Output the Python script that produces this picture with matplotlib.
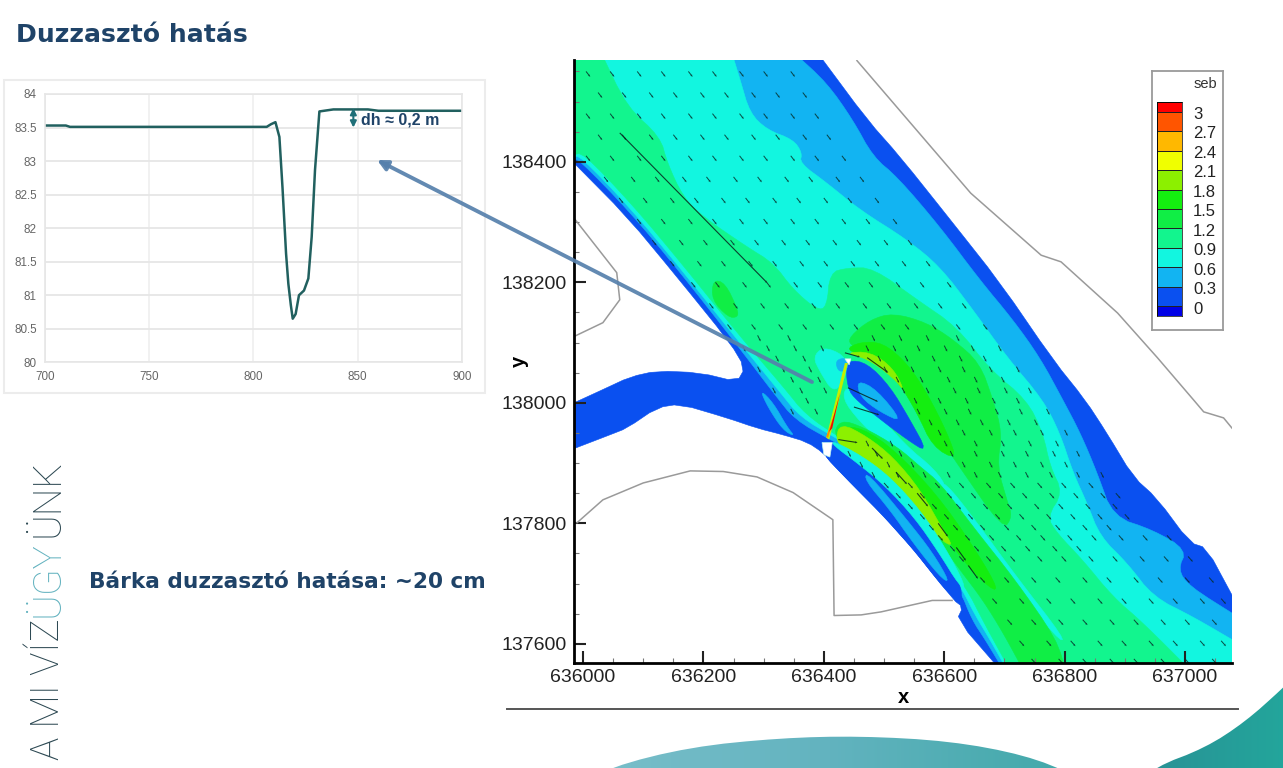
import numpy as np
import matplotlib
matplotlib.use("Agg")
import matplotlib.pyplot as plt
from matplotlib.colors import ListedColormap, BoundaryNorm, LinearSegmentedColormap
from matplotlib.patches import Polygon, Rectangle, FancyArrowPatch
from matplotlib.ticker import MultipleLocator

plt.rcParams["font.family"] = ["Liberation Sans", "DejaVu Sans"]

W, H = 1283, 768
NAVY = "#1f4368"

# water level profile
profile_x = [700, 710, 712, 750, 800, 806.4, 808.5, 810.6, 812.5, 814, 815.7, 816.8, 818, 818.9, 820.3,
             821.9, 824.3, 826.4, 828, 829.6, 831.7, 838.4, 855, 860, 900]
profile_y = [83.53, 83.53, 83.51, 83.51, 83.51, 83.51, 83.55, 83.58, 83.36, 82.6, 81.62, 81.17, 80.85, 80.65, 80.72,
             81.0, 81.07, 81.25, 81.87, 82.87, 83.74, 83.77, 83.77, 83.75, 83.75]
profile_xticks = [700, 750, 800, 850, 900]
profile_yticks = [80, 80.5, 81, 81.5, 82, 82.5, 83, 83.5, 84]
profile_ylabels = ["80", "80.5", "81", "81.5", "82", "82.5", "83", "83.5", "84"]

# legend
seb_levels = [0, 0.3, 0.6, 0.9, 1.2, 1.5, 1.8, 2.1, 2.4, 2.7, 3]
seb_labels = ["0", "0.3", "0.6", "0.9", "1.2", "1.5", "1.8", "2.1", "2.4", "2.7", "3"]
seb_edges = [-0.15, 0, 0.3, 0.6, 0.9, 1.2, 1.5, 1.8, 2.1, 2.4, 2.7, 3, 3.15]
seb_colors = ["#0000e6", "#0a50f0", "#12b4f2", "#12f6e0", "#12f58e", "#10ee45", "#14ee10",
              "#8cf000", "#f0ff00", "#ffb800", "#ff5500", "#ff0000"]

# velocity bands in EOV metres
water = [(635985, 138575), (636394, 138575), (636472, 138470), (636527, 138408), (636610, 138304), (636693, 138199),
         (636781, 138071), (636834, 138005), (636870, 137950), (636914, 137877), (636953, 137842), (637008, 137768),
         (637036, 137759), (637078, 137681), (637078, 137557), (636693, 137557), (636621, 137640), (636631, 137661),
         (636615, 137673), (636527, 137784), (636415, 137897), (636399, 137917), (636372, 137935), (636332, 137947),
         (636289, 137958), (636239, 137975), (636161, 137998), (636123, 137992), (636073, 137958), (636045, 137947),
         (635985, 137924), (635985, 138000), (636033, 138022), (636078, 138043), (636123, 138053), (636194, 138050),
         (636256, 138035), (636269, 138058), (636244, 138100), (636156, 138209), (636073, 138309), (635985, 138398)]
band_03 = [(635985, 138575), (636357, 138575), (636405, 138531), (636448, 138470), (636482, 138408), (636522, 138375),
           (636593, 138292), (636659, 138204), (636714, 138138), (636759, 138075), (636797, 138005), (636826, 137950),
           (636854, 137884), (636880, 137811), (636947, 137789), (637003, 137756), (636988, 137723), (637008, 137695),
           (637078, 137651), (637078, 137557), (636698, 137557), (636668, 137607), (636646, 137640), (636626, 137690),
           (636585, 137739), (636551, 137789), (636510, 137856), (636460, 137914), (636410, 137939), (636352, 137972),
           (636319, 138013), (636256, 138096), (636161, 138217), (636078, 138317), (635992, 138405), (635985, 138403)]
band_06 = [(635985, 138575), (636249, 138575), (636261, 138536), (636277, 138481), (636306, 138453), (636349, 138437),
           (636364, 138415), (636360, 138398), (636405, 138365), (636460, 138320), (636538, 138271), (636593, 138226),
           (636648, 138154), (636704, 138076), (636764, 138005), (636792, 137950), (636814, 137884), (636837, 137834),
           (636859, 137778), (636904, 137734), (636947, 137678), (637013, 137645), (637078, 137607), (637078, 137557),
           (636704, 137557), (636676, 137607), (636651, 137648), (636630, 137690), (636593, 137748), (636551, 137806),
           (636518, 137856), (636468, 137914), (636419, 137942), (636360, 137977), (636327, 138018), (636256, 138105),
           (636161, 138224), (636078, 138324), (635995, 138410), (635985, 138408)]
band_09 = [(635985, 138575), (636033, 138575), (636073, 138491), (636128, 138442), (636140, 138398), (636166, 138342),
           (636199, 138309), (636272, 138259), (636316, 138232), (636349, 138188), (636389, 138154), (636405, 138159),
           (636410, 138216), (636439, 138224), (636482, 138224), (636555, 138171), (636621, 138126), (636676, 138055),
           (636737, 138005), (636764, 137950), (636776, 137894), (636797, 137851), (636771, 137811), (636787, 137784),
           (636830, 137739), (636880, 137678), (636930, 137635), (637008, 137557), (636709, 137557), (636668, 137631),
           (636634, 137698), (636568, 137781), (636522, 137856), (636473, 137914), (636427, 137942), (636370, 137980),
           (636334, 138025), (636261, 138110), (636164, 138231), (636081, 138330), (636000, 138415), (635985, 138412)]
upstream_patch = [(636216, 138204), (636236, 138199), (636257, 138155), (636257, 138142), (636241, 138142), (636214, 138171)]
bulge_15 = [(636443, 138110), (636477, 138138), (636515, 138149), (636571, 138133), (636615, 138105), (636659, 138066),
            (636681, 138005), (636696, 137950), (636688, 137894), (636704, 137839), (636713, 137811), (636698, 137789),
            (636621, 137900), (636601, 137930), (636568, 137972), (636535, 138022), (636502, 138063), (636468, 138088),
            (636443, 138096)]
bulge_18 = [(636435, 138088), (636460, 138101), (636498, 138100), (636538, 138066), (636571, 138017), (636605, 137950),
            (636621, 137905), (636581, 137927), (636555, 137983), (636522, 138038), (636477, 138076)]
bulge_21 = [(636435, 138083), (636477, 138085), (636515, 138058), (636535, 138018), (636515, 138042), (636473, 138073)]
lens_halo = [(636440, 138030), (636477, 137997), (636535, 137930), (636585, 137889), (636606, 137856), (636568, 137875),
             (636510, 137922), (636460, 137968), (636430, 138008)]
cyan_strip = [(636601, 137869), (636651, 137806), (636718, 137714), (636801, 137607), (636789, 137607), (636706, 137709),
              (636639, 137797), (636590, 137862)]
upper_lens = [(636440, 138071), (636472, 138066), (636510, 138027), (636543, 137972), (636573, 137917), (636538, 137939),
              (636488, 137977), (636448, 138010), (636440, 138027), (636437, 138051)]
upper_lens_core = [(636455, 138038), (636488, 138022), (636532, 137967), (636493, 137985), (636460, 138010)]
barge_cyan = [(636382, 138076), (636399, 138093), (636432, 138080), (636439, 138060), (636432, 138033), (636415, 138018),
              (636394, 138051)]
barge_light = [(636419, 138071), (636439, 138075), (636440, 138055), (636424, 138051)]
lower_15 = [(636415, 137944), (636427, 137972), (636465, 137960), (636522, 137927), (636560, 137894), (636593, 137867),
            (636648, 137794), (636718, 137706), (636787, 137607), (636801, 137557), (636731, 137557), (636698, 137618),
            (636664, 137673), (636626, 137723), (636581, 137784), (636527, 137839), (636465, 137905)]
lower_18 = [(636419, 137939), (636435, 137963), (636477, 137952), (636535, 137905), (636601, 137831), (636668, 137731),
            (636693, 137681), (636651, 137714), (636593, 137789), (636527, 137864), (636468, 137914)]
lower_21 = [(636427, 137967), (636472, 137944), (636515, 137910), (636560, 137856), (636598, 137789), (636615, 137761),
            (636593, 137773), (636543, 137834), (636488, 137889), (636443, 137922), (636419, 137935)]
lower_lens = [(636399, 137917), (636415, 137934), (636460, 137905), (636505, 137872), (636555, 137817), (636593, 137761),
              (636626, 137701), (636630, 137673), (636615, 137673), (636527, 137784), (636415, 137897)]
lower_lens_edge = [(636415, 137937), (636463, 137912), (636510, 137877), (636560, 137822), (636601, 137761), (636636, 137695),
                   (636626, 137695), (636590, 137753), (636551, 137809), (636502, 137862), (636457, 137899), (636415, 137930)]
lower_lens_core = [(636472, 137885), (636538, 137806), (636581, 137751), (636610, 137701), (636593, 137711), (636548, 137768),
                   (636510, 137822), (636468, 137872)]
side_channel = [(636294, 138022), (636316, 138000), (636339, 137960), (636352, 137944), (636332, 137955), (636307, 137993)]
barge_foot = [(636397, 137934), (636414, 137934), (636410, 137910), (636400, 137914)]
barge_head = [(636435, 138073), (636445, 138073), (636442, 138063)]
barge_yellow = [(636440, 138066), (636409, 137939), (636404, 137942), (636435, 138066)]
barge_orange = [(636432, 138033), (636419, 137983), (636407, 137942), (636404, 137944), (636422, 137993)]
barge_red = [(636427, 138017), (636414, 137958), (636409, 137952), (636419, 137988)]

# bank lines
bank_north_x = [636455, 636644, 636761, 636794, 636888, 636954, 637014, 637031, 637064, 637078]
bank_north_y = [138568, 138348, 138245, 138234, 138149, 138075, 138005, 137985, 137975, 137958]
bank_west_x = [635987, 636056, 636061, 636033, 635987]
bank_west_y = [138304, 138216, 138171, 138133, 138111]
bank_south_x = [635990, 636033, 636100, 636178, 636233, 636289, 636349, 636415, 636417, 636462, 636495, 636580, 636613]
bank_south_y = [137801, 137839, 137867, 137887, 137886, 137877, 137851, 137806, 137647, 137648, 137653, 137672, 137672]

# velocity vectors as (north: metres east of 636000)
north_rows = {
    138550: [5, 45, 90, 130, 175, 215, 260, 300, 345],
    138515: [25, 65, 110, 150, 195, 235, 280, 320, 365],
    138480: [5, 45, 90, 130, 175, 215, 260, 300, 345, 385],
    138445: [25, 65, 110, 150, 195, 235, 280, 320, 365, 405],
    138410: [5, 45, 90, 130, 175, 215, 260, 300, 345, 385, 430],
    138375: [35, 80, 120, 165, 205, 250, 290, 335, 375, 420, 460],
    138340: [60, 100, 145, 185, 230, 270, 315, 355, 400, 440, 485],
    138305: [90, 130, 175, 215, 260, 300, 345, 385, 430, 470, 515],
    138270: [115, 160, 200, 245, 285, 330, 370, 415, 455, 500, 540],
    138235: [145, 190, 230, 275, 315, 360, 400, 445, 485, 530, 570],
    138200: [180, 220, 265, 305, 350, 390, 435, 475, 520, 560, 605],
    138165: [210, 250, 295, 335, 380, 420, 465, 505, 550, 590, 630],
    138130: [240, 280, 325, 365, 410, 450, 495, 535, 580, 620, 665],
}
bulge_rows = {
    138112: [290, 340, 480, 525, 570, 620],
    138095: [265, 305, 350, 395, 470, 515, 555, 600, 645, 690],
    138078: [320, 365, 490, 535, 580, 625, 665],
    138060: [290, 330, 375, 500, 545, 590, 630, 675, 720],
    138043: [345, 390, 520, 560, 605, 650, 695],
    138025: [315, 360, 400, 530, 570, 615, 655, 700, 740],
    138008: [370, 550, 590, 635, 680, 720],
    137990: [345, 385, 555, 600, 640, 685, 725, 770],
    137972: [575, 620, 660, 705, 750],
    137955: [590, 630, 675, 715, 760, 800],
    137937: [470, 510, 600, 650, 695, 740, 785],
    137920: [440, 485, 525, 610, 650, 695, 735, 780, 820],
    137902: [460, 505, 545, 630, 675, 715, 760, 800],
    137885: [480, 520, 565, 605, 650, 690, 735, 775, 820, 860],
}
south_rows = {
    137867: [500, 540, 585, 625, 670, 710, 755, 795, 840],
    137850: [520, 560, 605, 645, 690, 730, 775, 815, 860, 885],
    137832: [540, 580, 620, 665, 705, 750, 790, 835, 880],
    137815: [560, 600, 640, 685, 725, 770, 810, 855, 900],
    137797: [575, 615, 660, 700, 745, 785, 830, 870],
    137780: [590, 635, 675, 720, 760, 805, 845, 890, 930, 970],
    137762: [610, 650, 695, 735, 780, 820],
    137745: [625, 670, 710, 755, 795, 840, 880, 925, 965, 1005],
    137710: [660, 700, 745, 785, 830, 870, 915, 955, 1000, 1040],
    137675: [680, 725, 770, 810, 855, 895, 940, 980, 1025, 1060],
    137640: [705, 745, 790, 830, 875, 915, 960, 1000, 1045],
    137605: [725, 770, 810, 855, 895, 940, 980, 1025, 1060],
    137575: [745, 790, 830, 875, 915, 960, 1000, 1045],
}
streak_x = [636440, 636450, 636424, 636435, 636472, 636061, 636480, 636520, 636555, 636590, 636620, 636640]
streak_y = [138025, 137993, 137939, 138083, 138075, 138448, 137925, 137885, 137850, 137800, 137760, 137730]
streak_u = [50, 42, 32, 25, 35, 245, 18, 18, 18, 16, 16, 16]
streak_v = [-23, -13, -5, -7, -25, -249, -18, -20, -22, -22, -22, -22]


def axes_px(l, t, r, b, **kw):
    return fig.add_axes([l / W, 1 - b / H, (r - l) / W, (b - t) / H], **kw)


def on_frame(p):
    return p[0] <= 635985 or p[0] >= 637078 or p[1] >= 138575 or p[1] <= 137557


def smooth(pts, keep=on_frame, rounds=2):
    # corner cutting, so the digitised bands lose their kinks; frame corners stay put
    for _ in range(rounds):
        out = []
        n = len(pts)
        for i, p in enumerate(pts):
            if keep(p):
                out.append(p)
                continue
            a, b = pts[i - 1], pts[(i + 1) % n]
            out.append((0.75 * p[0] + 0.25 * a[0], 0.75 * p[1] + 0.25 * a[1]))
            out.append((0.75 * p[0] + 0.25 * b[0], 0.75 * p[1] + 0.25 * b[1]))
        pts = out
    return pts


def draw_rows(ax, rows, u, v, width=0.0015):
    x = [636000 + e for y, row in rows.items() for e in row]
    y = [y for y, row in rows.items() for e in row]
    ax.quiver(x, y, np.full(len(x), u), np.full(len(x), v), angles="xy", scale_units="xy", scale=1,
              width=width, headwidth=2.2, headlength=2.5, headaxislength=2.2, color="#06302a", alpha=0.85, zorder=5)


fig = plt.figure(figsize=(W / 100, H / 100), dpi=100, facecolor="white")

# decoration layer in pixels
deco = axes_px(0, 0, W, H, zorder=0)
deco.set_xlim(0, W)
deco.set_ylim(H, 0)
deco.axis("off")
deco.add_patch(Rectangle((4, 80), 481, 313, fc="white", ec="#ececec", lw=1.5))
grad = np.linspace(0, 1, 256).reshape(1, -1)
wave_cmap = LinearSegmentedColormap.from_list("w", ["#7cc0cb", "#62b3bf", "#3fa8a8"])
corner_cmap = LinearSegmentedColormap.from_list("c", ["#2a8f95", "#22a89c"])
no_keep = lambda p: False
wave = Polygon(smooth([(570, 790), (610, 767), (690, 747), (780, 738), (860, 736), (950, 741), (1025, 755), (1075, 775), (1090, 790)], no_keep),
               closed=True, transform=deco.transData, fc="none", ec="none")
deco.add_patch(wave)
im = deco.imshow(grad, extent=(570, 1090, 790, 730), cmap=wave_cmap, aspect="auto")
im.set_clip_path(wave)
corner = Polygon(smooth([(1130, 790), (1155, 767), (1205, 748), (1245, 722), (1283, 688), (1290, 680), (1300, 790)], no_keep),
                 closed=True, transform=deco.transData, fc="none", ec="none")
deco.add_patch(corner)
im2 = deco.imshow(grad, extent=(1130, 1300, 790, 680), cmap=corner_cmap, aspect="auto")
im2.set_clip_path(corner)
deco.set_xlim(0, W)
deco.set_ylim(H, 0)
deco.plot([507, 1238], [709, 709], color="#555555", lw=1.4)

deco.text(16, 35, "Duzzasztó hatás", family="DejaVu Sans", weight="bold", fontsize=18.1, color=NAVY, va="center")
deco.text(89, 582, "Bárka duzzasztó hatása: ~20 cm", family="DejaVu Sans", weight="bold", fontsize=15.6,
          color=NAVY, va="center")
for seg, bottom, col in [("A MI VÍZ", 760, "#2c4852"), ("ÜGY", 617, "#62b2bf"), ("ÜNK", 537, "#2c4852")]:
    deco.text(67, bottom, seg, family=["Roboto", "DejaVu Sans"], weight="light", fontsize=28, color=col,
              rotation=90, ha="right", va="bottom")

# profile chart
ax1 = axes_px(45, 94, 461.7, 362.3, zorder=2)
ax1.set_xlim(700, 900)
ax1.set_ylim(80, 84)
ax1.set_xticks(profile_xticks)
ax1.set_yticks(profile_yticks)
ax1.set_yticklabels(profile_ylabels)
ax1.grid(True, axis="y", color="#e6e6e6", lw=1.3)
ax1.grid(True, axis="x", color="#efefef", lw=1.2)
ax1.set_axisbelow(True)
for s in ax1.spines.values():
    s.set_color("#e6e6e6")
    s.set_linewidth(1.2)
ax1.tick_params(length=0, labelsize=8.4, labelcolor="#666666", pad=6)
ax1.plot(profile_x, profile_y, color="#21605f", lw=1.8, solid_joinstyle="round")
ax1.annotate("", xy=(848, 83.79), xytext=(848, 83.5),
             arrowprops=dict(arrowstyle="<|-|>", color="#1f6f78", lw=1.5, mutation_scale=9, shrinkA=0, shrinkB=0))
ax1.text(851.5, 83.61, "dh ≈ 0,2 m", color=NAVY, weight="bold", fontsize=11.5, va="center", ha="left")

# depth map
ax2 = axes_px(574, 60, 1232, 662.5, zorder=2)
ax2.patch.set_alpha(0)
ax2.set_xlim(635985, 637078)
ax2.set_ylim(137569, 138569)
layers = [(water, 1), (band_03, 2), (band_06, 3), (band_09, 4), (upstream_patch, 5),
          (bulge_15, 5), (bulge_18, 6), (bulge_21, 7), (cyan_strip, 3), (lens_halo, 3),
          (lower_15, 5), (lower_18, 6), (lower_21, 7), (upper_lens, 1), (upper_lens_core, 2),
          (lower_lens, 1), (lower_lens_edge, 3), (lower_lens_core, 2), (side_channel, 2),
          (barge_cyan, 3), (barge_light, 2)]
for i, (pts, col) in enumerate(layers):
    # one smoothing pass on the water outline keeps the notch at the side channel
    ax2.add_patch(Polygon(smooth(pts, rounds=1 if pts is water else 2), closed=True, fc=seb_colors[col],
                          ec=seb_colors[col], lw=0.4, zorder=1 + i * 0.01))
draw_rows(ax2, north_rows, 7, -9)
draw_rows(ax2, bulge_rows, 5, -10)
draw_rows(ax2, south_rows, 8, -9)
ax2.quiver(streak_x, streak_y, streak_u, streak_v, angles="xy", scale_units="xy", scale=1, width=0.0017,
           headwidth=2, headlength=2, headaxislength=2, color="#06241e", alpha=0.85, zorder=5)
ax2.add_patch(Polygon(barge_foot, closed=True, fc="white", ec="#bff5f0", lw=0.5, zorder=6))
ax2.add_patch(Polygon(barge_head, closed=True, fc="white", ec="#bff5f0", lw=0.5, zorder=6))
ax2.add_patch(Polygon(barge_yellow, closed=True, fc="#c4f000", ec="none", zorder=6))
ax2.add_patch(Polygon(barge_orange, closed=True, fc="#ff8a00", ec="none", zorder=6))
ax2.add_patch(Polygon(barge_red, closed=True, fc="#e81000", ec="none", zorder=6))
for bx, by in [(bank_north_x, bank_north_y), (bank_west_x, bank_west_y), (bank_south_x, bank_south_y)]:
    ax2.plot(bx, by, color="#9a9a9a", lw=1.1, zorder=4)
for side in ["top", "right"]:
    ax2.spines[side].set_visible(False)
for side in ["left", "bottom"]:
    ax2.spines[side].set_linewidth(2)
    ax2.spines[side].set_zorder(10)
ax2.set_xticks([636000, 636200, 636400, 636600, 636800, 637000])
ax2.set_xticklabels(["636000", "636200", "636400", "636600", "636800", "637000"])
ax2.set_yticks([137600, 137800, 138000, 138200, 138400])
ax2.set_yticklabels(["137600", "137800", "138000", "138200", "138400"])
ax2.xaxis.set_minor_locator(MultipleLocator(50))
ax2.yaxis.set_minor_locator(MultipleLocator(50))
ax2.tick_params(which="major", direction="in", length=8.5, width=1.5, labelsize=14, pad=5, colors="#222222")
ax2.tick_params(which="minor", direction="in", length=3.5, width=0.8, color="#777777")
ax2.set_xlabel("x", weight="bold", fontsize=14.5, labelpad=1)
ax2.set_ylabel("y", weight="bold", fontsize=14.5)
ax2.yaxis.set_label_coords(-0.068, 0.5)

# legend
box = axes_px(1152, 71, 1223, 330, zorder=3)
box.set_xticks([])
box.set_yticks([])
for s in box.spines.values():
    s.set_color("#9a9a9a")
    s.set_linewidth(1.3)
box.text(0.92, 0.95, "seb", transform=box.transAxes, ha="right", va="center", fontsize=10.5, color="#333333")
cb = axes_px(1157, 102, 1182, 316, zorder=4)
cb.pcolormesh([0, 1], seb_edges, np.arange(12).reshape(-1, 1), cmap=ListedColormap(seb_colors),
              norm=BoundaryNorm(np.arange(-0.5, 12.5), 12), edgecolors="#222222", linewidth=0.4)
cb.set_xticks([])
cb.set_yticks([])
for lev, lab in zip(seb_levels, seb_labels):
    cb.annotate(lab, (1, lev), xycoords=("axes fraction", "data"), xytext=(8, -2), textcoords="offset points",
                va="center", ha="left", fontsize=12, color="#222222", annotation_clip=False)
for s in cb.spines.values():
    s.set_linewidth(0.5)

# arrow from the map back to the profile
over = axes_px(0, 0, W, H, zorder=8)
over.set_xlim(0, W)
over.set_ylim(H, 0)
over.axis("off")
over.add_patch(FancyArrowPatch((812, 382), (377, 160), arrowstyle="-|>", mutation_scale=15, lw=2.8,
                               color="#5680ac", alpha=0.92, shrinkA=0, shrinkB=0))

fig.savefig("out.png", dpi=100)
